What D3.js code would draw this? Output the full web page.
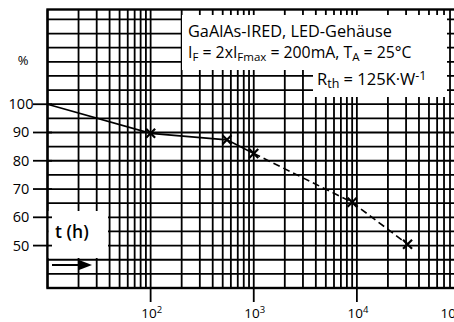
<!DOCTYPE html>
<html><head><meta charset="utf-8">
<script src="https://cdn.jsdelivr.net/npm/d3@7"></script>
<style>
html,body{margin:0;padding:0;background:#fff;}
svg{display:block;font-family:"Open Sans","Liberation Sans",sans-serif;}
</style></head>
<body>
<svg id="c" width="454" height="322"></svg>
<script>
// ---- data ----
const solidHours   = [10, 100, 550, 1000];
const solidValues  = [100, 89.7, 87.4, 82.6];
const dashedHours  = [1000, 9000, 31000];
const dashedValues = [82.6, 65.3, 50.5];
const markerHours  = [100, 550, 1000, 9000, 31000];
const markerValues = [89.7, 87.4, 82.6, 65.3, 50.5];
const yTickValues  = [50, 60, 70, 80, 90, 100];
const xTickValues  = [1e2, 1e3, 1e4, 1e5];
const xTickExps    = ["2", "3", "4", "5"];
const legendLine1  = "GaAlAs-IRED, LED-Gehäuse";

const svg = d3.select("#c");
const x = d3.scaleLog().domain([10, 1e5]).range([47.5, 460]);
const y = d3.scaleLinear().domain([35, 133.5]).range([288, 9.5]);

// grid
const g = svg.append("g");
g.selectAll("line.v").data(x.ticks()).enter().append("line")
  .attr("x1", d => x(d)).attr("x2", d => x(d))
  .attr("y1", y(133.5)).attr("y2", y(35))
  .attr("stroke", "#000").attr("stroke-width", 1.8);
g.selectAll("line.h").data(d3.range(40, 133, 5)).enter().append("line")
  .attr("x1", x(10)).attr("x2", 470)
  .attr("y1", d => y(d)).attr("y2", d => y(d))
  .attr("stroke", "#000").attr("stroke-width", 1.8);

// frame
svg.append("rect").attr("x", x(10)).attr("y", y(133.5))
  .attr("width", 470 - x(10)).attr("height", y(35) - y(133.5))
  .attr("fill", "none").attr("stroke", "#000").attr("stroke-width", 2.4);

// white boxes (legend and axis title)
svg.append("rect").attr("x", 182).attr("y", 15).attr("width", 265).attr("height", 55).attr("fill", "#fff");
svg.append("rect").attr("x", 313).attr("y", 69).attr("width", 134).attr("height", 28).attr("fill", "#fff");
svg.append("rect").attr("x", x(10) + 1.2).attr("y", 211).attr("width", 108 - x(10) - 1.2).attr("height", 47).attr("fill", "#fff");

// y ticks
svg.selectAll("line.yt").data(yTickValues).enter().append("line")
  .attr("x1", 33).attr("x2", 52)
  .attr("y1", d => y(d)).attr("y2", d => y(d))
  .attr("stroke", "#000").attr("stroke-width", 1.8);
svg.selectAll("text.yl").data(yTickValues).enter().append("text")
  .attr("x", 21).attr("y", d => y(d) + 5)
  .attr("text-anchor", "middle").attr("font-size", 14.5).text(d => d);
svg.append("text").attr("x", 23).attr("y", 65).attr("text-anchor", "middle")
  .attr("font-size", 13).text("%");

// x ticks
svg.selectAll("line.xt").data(xTickValues).enter().append("line")
  .attr("x1", d => x(d)).attr("x2", d => x(d))
  .attr("y1", y(35)).attr("y2", 302)
  .attr("stroke", "#000").attr("stroke-width", 1.8);
const xl = svg.selectAll("text.xl").data(xTickValues).enter().append("text")
  .attr("x", d => Math.min(x(d) + 1, 451)).attr("y", 318)
  .attr("text-anchor", "middle").attr("font-size", 13.5);
xl.append("tspan").text("10");
xl.append("tspan").attr("font-size", 9.5).attr("dy", -5).text((d, i) => xTickExps[i]);

// curve
const line = d3.line().x(d => x(d[0])).y(d => y(d[1]));
svg.append("path").datum(solidHours.map((h, i) => [h, solidValues[i]]))
  .attr("d", line).attr("fill", "none").attr("stroke", "#000").attr("stroke-width", 1.6);
svg.append("path").datum(dashedHours.map((h, i) => [h, dashedValues[i]]))
  .attr("d", line).attr("fill", "none").attr("stroke", "#000").attr("stroke-width", 1.6)
  .attr("stroke-dasharray", "7,4");

// markers
const m = svg.selectAll("g.mk").data(markerHours).enter().append("g")
  .attr("transform", (d, i) => `translate(${x(d)},${y(markerValues[i])})`);
m.append("path").attr("d", "M-4.5,-4.5L4.5,4.5M-4.5,4.5L4.5,-4.5")
  .attr("stroke", "#000").attr("stroke-width", 2.2);

// legend text
svg.append("text").attr("x", 188).attr("y", 36.5).attr("font-size", 16.3).text(legendLine1);
const l2 = svg.append("text").attr("x", 188).attr("y", 58).attr("font-size", 15.8);
l2.append("tspan").text("I");
l2.append("tspan").attr("font-size", 11.5).attr("dy", 3).text("F");
l2.append("tspan").attr("dy", -3).text(" = 2xI");
l2.append("tspan").attr("font-size", 11.5).attr("dy", 3).text("Fmax");
l2.append("tspan").attr("dy", -3).text(" = 200mA, T");
l2.append("tspan").attr("font-size", 11.5).attr("dy", 3).text("A");
l2.append("tspan").attr("dy", -3).text(" = 25°C");
const l3 = svg.append("text").attr("x", 317).attr("y", 85).attr("font-size", 16.5);
l3.append("tspan").text("R");
l3.append("tspan").attr("font-size", 12.5).attr("dy", 3).text("th");
l3.append("tspan").attr("dy", -3).text(" = 125K·W");
l3.append("tspan").attr("font-size", 12.5).attr("dy", -5).text("-1");

// axis title and arrow
svg.append("text").attr("x", 55).attr("y", 238).attr("font-size", 17.5).attr("font-weight", 600).text("t (h)");
svg.append("line").attr("x1", 52).attr("x2", 80).attr("y1", 265).attr("y2", 265)
  .attr("stroke", "#000").attr("stroke-width", 2);
svg.append("path").attr("d", "M79,260L92,265L79,270Z").attr("fill", "#000");
</script>
</body></html>
